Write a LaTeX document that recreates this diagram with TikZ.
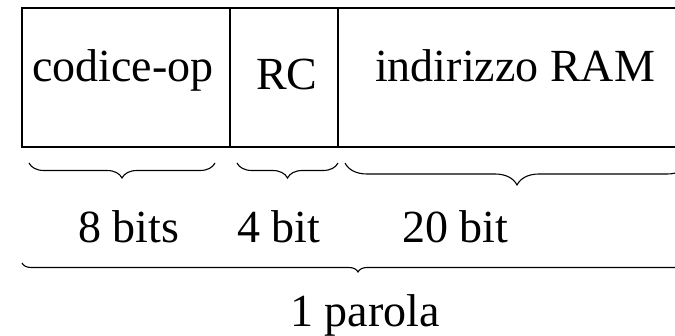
\documentclass[tikz,border=0pt]{standalone}
\usepackage{fontspec}
\setmainfont{Liberation Serif}
\usetikzlibrary{decorations.pathreplacing}
\begin{document}
\begin{tikzpicture}[x=1pt,y=-1pt,
  field/.style={draw=black,line width=1.3pt,inner sep=0pt},
  lbl/.style={anchor=base west,inner sep=0pt,font=\fontsize{46}{50}\selectfont},
  brc/.style={draw=black,line width=1.1pt,decorate,decoration={brace,mirror,amplitude=#1}}]
\useasboundingbox (0,0) rectangle (675,336);
\clip (0,0) rectangle (675,336);
\fill[white] (0,0) rectangle (675,336);
% fields
\draw[field] (22,8) rectangle (230,147);
\draw[field] (230,8) rectangle (338,147);
\draw[field] (338,8) rectangle (700,147);
\node[lbl] (t1) at (32,82) {codice-op};
\node[lbl] (t2) at (256,90) {RC};
\node[lbl] (t3) at (375,82) {indirizzo RAM};
% braces
\coordinate (b1a) at (29,163); \coordinate (b1b) at (215,163);
\coordinate (b2a) at (237,163); \coordinate (b2b) at (338,163);
\coordinate (b3a) at (345,163); \coordinate (b3b) at (689,163);
\coordinate (b4a) at (22,263); \coordinate (b4b) at (694,263);
\draw[brc=15pt] (b1a) -- (b1b);
\draw[brc=15pt] (b2a) -- (b2b);
\draw[brc=22pt] (b3a) -- (b3b);
\draw[brc=9pt] (b4a) -- (b4b);
\node[lbl] (s1) at (78,243) {8 bits};
\node[lbl] (s2) at (237,243) {4 bit};
\node[lbl] (s3) at (402,243) {20 bit};
\node[lbl] (s4) at (290,327) {1 parola};
\end{tikzpicture}
\end{document}
